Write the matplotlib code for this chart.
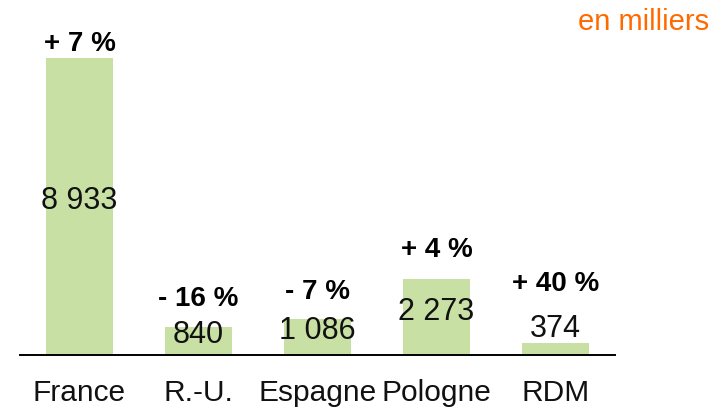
import matplotlib
matplotlib.use("Agg")
import matplotlib.pyplot as plt

plt.rcParams["font.family"] = ["Liberation Sans", "DejaVu Sans"]

# ── data ──────────────────────────────────────────────
categories = ["France", "R.-U.", "Espagne", "Pologne", "RDM"]
values = [8933, 840, 1086, 2273, 374]
value_labels = ["8 933", "840", "1 086", "2 273", "374"]
pct_labels = ["+ 7 %", "- 16 %", "- 7 %", "+ 4 %", "+ 40 %"]

BAR_COLOR = "#C9E0A5"
ORANGE = "#FF6A00"

fig = plt.figure(figsize=(7.27, 4.09), dpi=100)
ax = fig.add_axes([20 / 727, 54 / 409, 595 / 727, 332.5 / 409])

x = list(range(len(categories)))
bars = ax.bar(x, values, width=0.555, color=BAR_COLOR, zorder=2)

ax.set_xlim(-0.5, 4.5)
ax.set_ylim(0, 10000)
for side in ["top", "right", "left"]:
    ax.spines[side].set_visible(False)
ax.spines["bottom"].set_linewidth(1.4)
ax.set_yticks([])
ax.set_xticks(x)
ax.set_xticklabels(categories, fontsize=21.5, color="#111111")
ax.tick_params(axis="x", length=0, pad=17)

# value labels: centred in bar, above the bar when too small
for xi, v, lab in zip(x, values, value_labels):
    if v < 500:
        ax.annotate(lab, (xi, v), xytext=(0, -1), textcoords="offset points",
                    ha="center", va="bottom", fontsize=22, color="#111111")
    else:
        ax.annotate(lab, (xi, v / 2), xytext=(0, 4), textcoords="offset points",
                    ha="center", va="center", fontsize=22, color="#111111")

# growth labels above each bar (baseline gap in points)
pct_pad = [5, 15, 14, 16.5, 37]
for xi, v, lab, pad in zip(x, values, pct_labels, pct_pad):
    ax.annotate(lab, (xi, v), xytext=(0, pad), textcoords="offset points",
                ha="center", va="baseline", fontsize=20, fontweight="bold",
                color="black")

fig.text(0.975, 0.945, "en milliers", ha="right", va="center",
         fontsize=21, color=ORANGE)

fig.savefig("out.png", dpi=100)
